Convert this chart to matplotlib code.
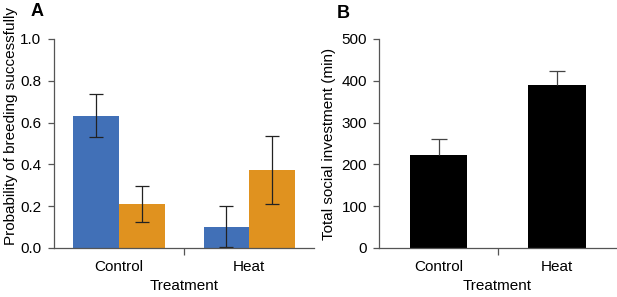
import numpy as np
import matplotlib.pyplot as plt

plt.rcParams['font.family'] = ['Liberation Sans', 'DejaVu Sans']

# Panel A: probability of breeding successfully
groups = ['Control', 'Heat']
blue_vals = [0.633, 0.102]
blue_lo = [0.531, 0.003]
blue_hi = [0.738, 0.202]
orange_vals = [0.210, 0.373]
orange_lo = [0.126, 0.209]
orange_hi = [0.298, 0.537]

# Panel B: total social investment (min)
invest_vals = [223, 390]
invest_hi = [260, 423]

blue = '#4170b7'
orange = '#e0921f'
spine_col = '#555555'
fs = 11

fig = plt.figure(figsize=(6.17, 2.97), dpi=100)
axA = fig.add_axes([0.0875, 0.165, 0.4215, 0.704])
axB = fig.add_axes([0.615, 0.165, 0.383, 0.704])


def style(ax):
    for s in ['top', 'right']:
        ax.spines[s].set_visible(False)
    for s in ['left', 'bottom']:
        ax.spines[s].set_color(spine_col)
        ax.spines[s].set_linewidth(0.9)
    ax.set_xlim(-0.5, 1.5)
    ax.set_xticks([0.5])
    ax.set_xticklabels([''])
    ax.set_xticks([0, 1], minor=True)
    ax.set_xticklabels(groups, minor=True)
    ax.tick_params(axis='x', which='minor', length=0, pad=9, labelsize=fs)
    ax.tick_params(axis='x', which='major', length=5, color=spine_col, width=0.9)
    ax.tick_params(axis='y', length=4, pad=5, color=spine_col, width=0.9, labelsize=fs)
    ax.set_xlabel('Treatment', fontsize=fs, labelpad=3)


x = np.arange(len(groups))
w = 0.35
bv = np.array(blue_vals)
ov = np.array(orange_vals)
axA.bar(x - w / 2, bv, w, color=blue)
axA.bar(x + w / 2, ov, w, color=orange)
axA.errorbar(x - w / 2, bv, yerr=[bv - np.array(blue_lo), np.array(blue_hi) - bv],
             fmt='none', ecolor='#222222', elinewidth=0.9, capsize=5, capthick=0.9)
axA.errorbar(x + w / 2, ov, yerr=[ov - np.array(orange_lo), np.array(orange_hi) - ov],
             fmt='none', ecolor='#222222', elinewidth=0.9, capsize=5, capthick=0.9)
axA.set_ylim(0, 1.0)
axA.set_yticks([0.0, 0.2, 0.4, 0.6, 0.8, 1.0])
axA.set_yticklabels(['0.0', '0.2', '0.4', '0.6', '0.8', '1.0'])
axA.set_ylabel('Probability of breeding successfully', fontsize=fs, labelpad=2, y=0.585)
style(axA)

iv = np.array(invest_vals)
axB.bar(x, iv, 0.49, color='black')
eb = axB.errorbar(x, iv, yerr=[np.zeros(2), np.array(invest_hi) - iv],
                  fmt='none', ecolor='#444444', elinewidth=0.9, capsize=5.5, capthick=0.9)
eb[1][0].set_visible(False)  # hide the lower cap, only upper whisker shown
axB.set_ylim(0, 500)
axB.set_yticks([0, 100, 200, 300, 400, 500])
axB.set_ylabel('Total social investment (min)', fontsize=fs, labelpad=4)
style(axB)

fig.text(31 / 617, 1 - 12 / 297, 'A', fontsize=13, fontweight='bold', va='center', ha='left')
fig.text(337 / 617, 1 - 13 / 297, 'B', fontsize=13, fontweight='bold', va='center', ha='left')

fig.savefig('out.png', dpi=100)
